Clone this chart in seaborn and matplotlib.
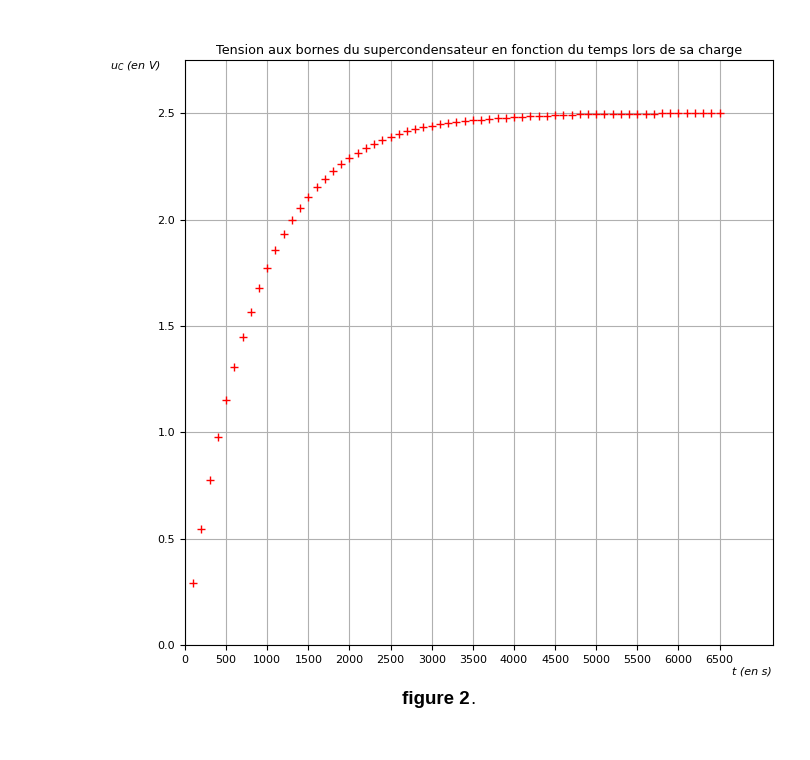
import matplotlib
matplotlib.use("Agg")
import pandas as pd
import matplotlib.pyplot as plt
import seaborn as sns

# Charge du supercondensateur : temps (s) et tension uC (V)
temps = [100, 200, 300, 400, 500, 600, 700, 800, 900, 1000,
         1100, 1200, 1300, 1400, 1500, 1600, 1700, 1800, 1900, 2000,
         2100, 2200, 2300, 2400, 2500, 2600, 2700, 2800, 2900, 3000,
         3100, 3200, 3300, 3400, 3500, 3600, 3700, 3800, 3900, 4000,
         4100, 4200, 4300, 4400, 4500, 4600, 4700, 4800, 4900, 5000,
         5100, 5200, 5300, 5400, 5500, 5600, 5700, 5800, 5900, 6000,
         6100, 6200, 6300, 6400, 6500]
tension = [0.291, 0.545, 0.775, 0.977, 1.151, 1.306, 1.447, 1.565, 1.678, 1.772,
           1.856, 1.931, 1.997, 2.054, 2.105, 2.152, 2.190, 2.227, 2.260, 2.289,
           2.312, 2.336, 2.354, 2.373, 2.387, 2.401, 2.415, 2.425, 2.434, 2.440,
           2.448, 2.453, 2.458, 2.462, 2.467, 2.470, 2.472, 2.476, 2.479, 2.481,
           2.484, 2.486, 2.488, 2.489, 2.491, 2.492, 2.493, 2.494, 2.495, 2.496,
           2.496, 2.497, 2.497, 2.497, 2.498, 2.498, 2.498, 2.499, 2.499, 2.499,
           2.499, 2.499, 2.499, 2.499, 2.499]
xticks = list(range(0, 7000, 500))
yticks = [0.0, 0.5, 1.0, 1.5, 2.0, 2.5]

df = pd.DataFrame({'t': temps, 'uC': tension})

sns.set_style("ticks", {'text.color': 'black', 'xtick.color': 'black',
                        'ytick.color': 'black', 'axes.labelcolor': 'black'})
fig = plt.figure(figsize=(8.1, 7.6), dpi=100)
ax = fig.add_axes([185/810, 115/760, 588/810, 585/760])

sns.scatterplot(data=df, x='t', y='uC', marker='+', color='red',
                s=36, linewidth=1.0, ax=ax, legend=False)

ax.set_xlim(0, 7150)
ax.set_ylim(0, 2.75)
ax.set_xticks(xticks)
ax.set_yticks(yticks)
ax.set_yticklabels([f"{v:.1f}" for v in yticks])
ax.tick_params(labelsize=8, length=3.5, width=0.8, colors='black')
ax.grid(True, color='#b0b0b0', linewidth=0.8)
for sp in ax.spines.values():
    sp.set_linewidth(0.8)
    sp.set_color('black')

ax.set_xlabel('')
ax.set_ylabel('')
ax.set_title('Tension aux bornes du supercondensateur en fonction du temps lors de sa charge',
             fontsize=9.15, pad=4, color='black')
fig.text(110/810, 1 - 66/760, r'$u_C$ (en V)', fontsize=8, style='italic',
         ha='left', va='center', color='black')
fig.text(772/810, 1 - 672/760, 't (en s)', fontsize=8, style='italic',
         ha='right', va='center', color='black')
fig.text(470/810, 1 - 700/760, 'figure 2', fontsize=13.5, fontweight='bold',
         family='Liberation Sans', ha='right', va='center', color='black')
fig.text(470/810, 1 - 700/760, '.', fontsize=13.5,
         family='Liberation Sans', ha='left', va='center', color='black')

fig.savefig('out.png', dpi=100)
